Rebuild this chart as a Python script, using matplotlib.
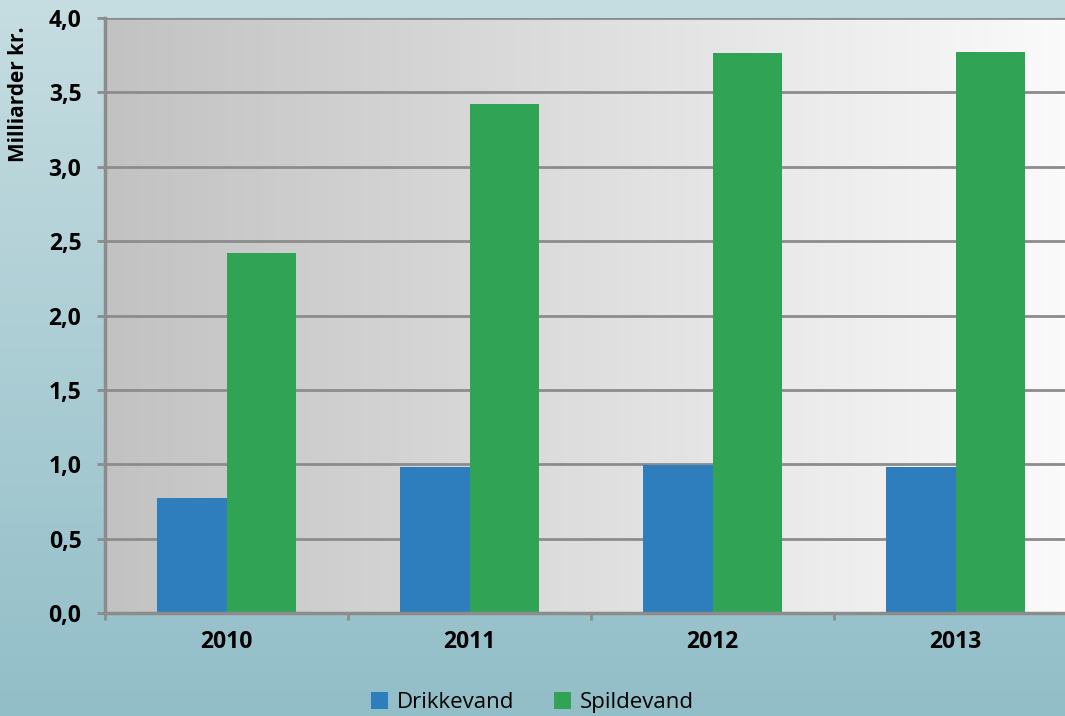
import numpy as np
import matplotlib.pyplot as plt
from matplotlib.colors import LinearSegmentedColormap

# data
aar = ["2010", "2011", "2012", "2013"]
drikkevand = [0.77, 0.98, 0.995, 0.98]
spildevand = [2.42, 3.42, 3.765, 3.77]

plt.rcParams['font.family'] = ['Open Sans', 'DejaVu Sans']

fig = plt.figure(figsize=(10.65, 7.16), dpi=100)

# baggrund med gradient (lys blå top -> mørkere nederst)
bg = fig.add_axes([0, 0, 1, 1], zorder=-10)
grad = np.linspace(0, 1, 256).reshape(-1, 1)
cm_bg = LinearSegmentedColormap.from_list("bg", ["#92bec8", "#c6dde1"])
bg.imshow(grad, aspect='auto', cmap=cm_bg, origin='lower', extent=[0, 1, 0, 1])
bg.axis('off')

# plot-område
ax = fig.add_axes([105/1065, 1 - 613/716, (1077 - 105)/1065, (613 - 18)/716])
x = np.arange(len(aar))
w = 0.284

cm_ax = LinearSegmentedColormap.from_list("ax", ["#c2c2c2", "#fbfbfb"])
ax.imshow(np.linspace(0, 1, 256).reshape(1, -1), aspect='auto', cmap=cm_ax,
          extent=[-0.5, 3.5, 0, 4], zorder=0)

ax.bar(x - w/2, drikkevand, w, color="#2e7ebd", label="Drikkevand", zorder=3)
ax.bar(x + w/2, spildevand, w, color="#31a354", label="Spildevand", zorder=3)

ax.set_xlim(-0.5, 3.5)
ax.set_ylim(0, 4)
yt = np.arange(0, 4.01, 0.5)
ax.set_yticks(yt)
ax.set_yticklabels([f"{v:.1f}".replace('.', ',') for v in yt],
                   fontsize=16.5, fontweight='bold')
ax.set_xticks(x)
ax.set_xticklabels(aar, fontsize=16.5, fontweight='bold')
ax.set_xticks(np.arange(-0.5, 3.6, 1), minor=True)
ax.tick_params(axis='x', which='major', length=0, pad=12)
ax.tick_params(axis='x', which='minor', length=5, width=2, color="#8c8c8c")
ax.tick_params(axis='y', length=6, width=2, color="#8c8c8c", pad=11)
ax.grid(axis='y', color="#8c8c8c", linewidth=2, zorder=1)
ax.set_axisbelow(False)
for s in ['top', 'right']:
    ax.spines[s].set_visible(False)
for s in ['left', 'bottom']:
    ax.spines[s].set_color("#8c8c8c")
    ax.spines[s].set_linewidth(2.5)
    ax.spines[s].set_zorder(4)

ax.set_ylabel("Milliarder kr.", fontsize=15, fontweight='bold')
ax.yaxis.set_label_coords(-0.078, 0.872)

fig.legend(loc='lower center', bbox_to_anchor=(0.5, -0.024), ncol=2, frameon=False,
           fontsize=16, handlelength=0.75, handleheight=0.75, columnspacing=1.8,
           handletextpad=0.4)

fig.savefig("out.png", dpi=100)
